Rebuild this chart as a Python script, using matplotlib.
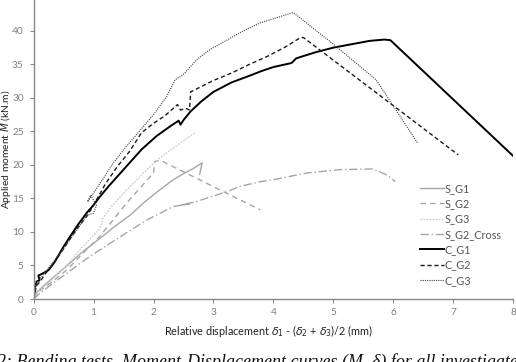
import matplotlib
matplotlib.use("Agg")
import matplotlib.pyplot as plt

# ---------------- data ----------------
s_g1_x = [0, 0.05, 0.15, 0.3, 0.55, 0.8, 1.1, 1.35, 1.61, 1.83, 2.05, 2.33, 2.56, 2.65, 2.72, 2.81, 2.79, 2.77]
s_g1_y = [0, 1.0, 1.8, 3.0, 4.9, 6.9, 9.0, 10.8, 12.5, 14.3, 15.9, 17.8, 19.0, 19.4, 19.8, 20.3, 19.4, 18.6]

s_g2_x = [0, 0.1, 0.3, 0.55, 0.8, 1.1, 1.3, 1.55, 1.8, 2.0, 2.02, 2.11, 3.78]
s_g2_y = [0, 1.2, 2.5, 4.3, 6.6, 9.3, 11.5, 14.3, 16.8, 18.8, 20.5, 20.7, 13.3]

s_g3_x = [0, 0.1, 0.3, 0.55, 0.8, 1.0, 1.11, 1.15, 1.3, 1.5, 1.7, 1.89, 2.1, 2.28, 2.5, 2.69]
s_g3_y = [0, 1.3, 2.8, 5.0, 7.6, 9.5, 10.5, 12.0, 13.8, 15.8, 17.6, 19.3, 21.0, 22.2, 23.6, 24.8]

s_g2c_x = [0, 0.1, 0.3, 0.55, 0.8, 1.1, 1.5, 1.89, 2.2, 2.33, 2.6, 2.45, 2.7, 3.22, 3.44, 3.78, 4.0, 4.56, 5.11, 5.66, 5.89, 6.03]
s_g2c_y = [0, 0.8, 2.2, 3.8, 5.5, 7.3, 9.6, 11.8, 13.2, 13.8, 14.2, 14.0, 14.5, 16.0, 16.8, 17.5, 17.8, 18.8, 19.3, 19.4, 18.5, 17.5]

c_g1_x = [0, 0.02, 0.05, 0.1, 0.08, 0.15, 0.25, 0.35, 0.5, 0.6, 0.75, 0.9, 1.0, 1.1, 1.25, 1.4, 1.6, 1.8, 2.05, 2.3,
          2.42, 2.45, 2.5, 2.62, 2.8, 3.0, 3.3, 3.6, 3.8, 4.0, 4.3, 4.38, 4.45, 4.7, 5.0, 5.3, 5.6, 5.85, 5.95, 8.0]
c_g1_y = [0, 1.5, 2.6, 2.8, 3.5, 3.8, 4.3, 5.5, 7.8, 9.2, 11.2, 13.0, 14.0, 15.2, 16.8, 18.3, 20.3, 22.3, 24.3, 25.9,
          26.6, 26.0, 26.7, 28.0, 29.5, 30.9, 32.3, 33.3, 34.0, 34.6, 35.2, 35.9, 36.1, 36.8, 37.5, 38.0, 38.5, 38.7, 38.6, 21.3]

c_g2_x = [0, 0.05, 0.1, 0.2, 0.35, 0.5, 0.7, 0.9, 1.0, 1.2, 1.4, 1.6, 1.8, 2.0, 2.2, 2.4, 2.45, 2.55, 2.6, 2.62,
          2.8, 3.0, 3.3, 3.6, 3.9, 4.2, 4.45, 4.5, 7.08]
c_g2_y = [0, 2.0, 2.5, 3.8, 5.5, 7.5, 10.2, 12.5, 14.0, 17.2, 19.8, 22.0, 24.8, 26.2, 27.4, 29.0, 28.2, 28.4, 28.2, 30.9,
          31.7, 32.6, 33.7, 35.0, 36.2, 37.6, 39.0, 39.0, 21.5]

c_g3_x = [0, 0.03, 0.08, 0.15, 0.3, 0.5, 0.7, 0.85, 0.9, 1.0, 1.05, 0.95, 0.9, 1.0, 1.15, 1.33, 1.55, 1.78, 2.0, 2.22,
          2.36, 2.5, 2.72, 2.94, 3.2, 3.5, 3.78, 4.0, 4.31, 4.35, 5.0, 5.71, 6.4]
c_g3_y = [0, 2.0, 2.8, 3.5, 5.2, 7.5, 10.0, 12.0, 12.5, 12.8, 14.0, 15.5, 14.5, 15.8, 17.8, 20.3, 22.8, 25.2, 27.5, 30.2,
          32.7, 33.5, 35.7, 37.2, 38.5, 40.0, 41.2, 41.8, 42.7, 42.6, 38.0, 32.7, 23.3]

x_ticks = [0, 1, 2, 3, 4, 5, 6, 7, 8]
y_ticks = [0, 5, 10, 15, 20, 25, 30, 35, 40]

# ---------------- figure ----------------
plt.rcParams['font.family'] = ['Lato', 'DejaVu Sans']
fig = plt.figure(figsize=(5.16, 3.62), dpi=100)
ax = fig.add_axes([0.065, 0.174, 0.93, 0.826])

ax.plot(s_g1_x, s_g1_y, color='#a6a6a6', lw=1.0, label='S_G1')
ax.plot(s_g2_x, s_g2_y, color='#a6a6a6', lw=1.0, dashes=(4, 3), label='S_G2')
ax.plot(s_g3_x, s_g3_y, color='#cccccc', lw=1.0, dashes=(1.2, 1), label='S_G3')
ax.plot(s_g2c_x, s_g2c_y, color='#a6a6a6', lw=1.0, dashes=(6, 2, 1, 2), label='S_G2_Cross')
ax.plot(c_g1_x, c_g1_y, color='black', lw=1.4, label='C_G1')
ax.plot(c_g2_x, c_g2_y, color='#1a1a1a', lw=1.0, dashes=(3, 2), label='C_G2')
ax.plot(c_g3_x, c_g3_y, color='#444444', lw=0.8, dashes=(1, 1), label='C_G3')

ax.set_xlim(0, 8)
ax.set_ylim(0, 44.6)
ax.set_xticks(x_ticks)
ax.set_yticks(y_ticks)
for s in ['top', 'right']:
    ax.spines[s].set_visible(False)
for s in ['left', 'bottom']:
    ax.spines[s].set_color('#888888')
    ax.spines[s].set_linewidth(1.0)
ax.tick_params(colors='#888888', labelcolor='#808080', labelsize=7.3, length=3, width=0.8)
ax.tick_params(axis='y', pad=4)

ax.set_xlabel(r'Relative displacement $\delta_1$ - ($\delta_2$ + $\delta_3$)/2 (mm)', fontsize=7.8, color='#222222')
ax.xaxis.set_label_coords(0.49, -0.08)
ax.set_ylabel(r'Applied moment $M$ (kN.m)', fontsize=7.4, color='#222222', va='center')
ax.yaxis.set_label_coords(-0.058, 0.5)

leg = ax.legend(loc='lower right', bbox_to_anchor=(0.985, 0.03), frameon=False, fontsize=7.8,
                handlelength=2.2, handletextpad=0.1, labelspacing=0.4, borderaxespad=0)
for t in leg.get_texts():
    t.set_color('#555555')

fig.text(-0.005, -0.014, '2: Bending tests. Moment-Displacement curves (M, \u03b4) for all investigated',
         fontsize=13, style='italic', family='Liberation Serif', color='#111111', ha='left', va='baseline')

fig.savefig('out.png', dpi=100)
